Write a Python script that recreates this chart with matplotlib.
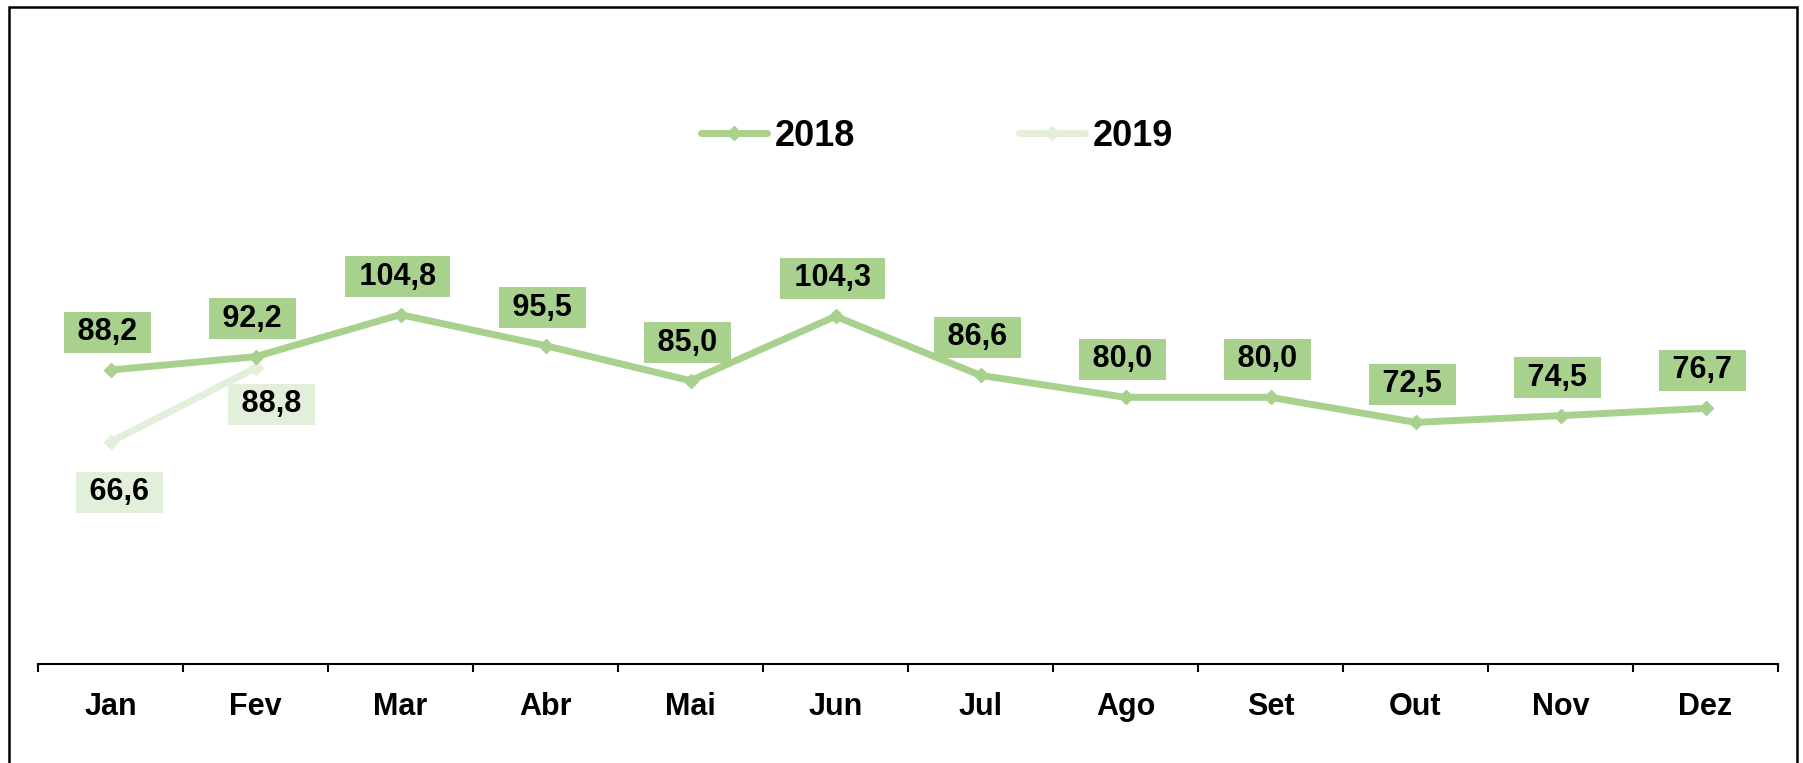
import matplotlib.pyplot as plt
from matplotlib.patches import Rectangle

# ---------------------------------------------------------------------
# Data
# ---------------------------------------------------------------------

MONTHS = ["Jan", "Fev", "Mar", "Abr", "Mai", "Jun",
          "Jul", "Ago", "Set", "Out", "Nov", "Dez"]

VALUES_2018 = [88.2, 92.2, 104.8, 95.5, 85.0, 104.3,
               86.6, 80.0, 80.0, 72.5, 74.5, 76.7]

VALUES_2019 = [66.6, 88.8]

COLOR_2018 = "#A9D18E"
COLOR_2019 = "#E2EFDA"

plt.rcParams["font.family"] = ["Liberation Sans", "DejaVu Sans"]
plt.rcParams["font.weight"] = "bold"


def fmt(value: float) -> str:
    # decimal comma, padded with spaces so the box is wider than tall
    return " " + f"{value:.1f}".replace(".", ",") + " "


def main() -> None:
    fig = plt.figure(figsize=(18.03, 7.63), dpi=100)

    # figure frame
    fig.patches.append(
        Rectangle((9 / 1803, -0.05), (1797 - 9) / 1803, 1.05 - 7 / 763,
                  transform=fig.transFigure, fill=False,
                  edgecolor="black", linewidth=1.8)
    )

    ax = fig.add_axes([38 / 1803, 99 / 763, 1740 / 1803, 600 / 763])

    x18 = range(len(VALUES_2018))
    x19 = range(len(VALUES_2019))

    ax.plot(x18, VALUES_2018, color=COLOR_2018, linewidth=5,
            marker="D", markersize=7, solid_capstyle="round", label="2018",
            zorder=3)
    ax.plot(x19, VALUES_2019, color=COLOR_2019, linewidth=5,
            marker="D", markersize=7, solid_capstyle="round", label="2019",
            zorder=2)

    for i, value in enumerate(VALUES_2018):
        ax.annotate(fmt(value), (i, value), xytext=(-3, 38),
                    textcoords="offset pixels", ha="center", va="center",
                    fontsize=22, fontweight="bold",
                    bbox=dict(boxstyle="square,pad=0.18", facecolor=COLOR_2018,
                              edgecolor="none"), zorder=4)

    offsets_2019 = [(9, -50), (16, -36)]
    for i, value in enumerate(VALUES_2019):
        ax.annotate(fmt(value), (i, value), xytext=offsets_2019[i],
                    textcoords="offset pixels", ha="center", va="center",
                    fontsize=22, fontweight="bold",
                    bbox=dict(boxstyle="square,pad=0.18", facecolor=COLOR_2019,
                              edgecolor="none"), zorder=4)

    ax.set_xlim(-0.5, len(MONTHS) - 0.5)
    ax.set_ylim(0, 180)

    ax.set_xticks(range(len(MONTHS)))
    ax.set_xticklabels(MONTHS, fontsize=22, fontweight="bold")
    ax.set_xticks([i - 0.5 for i in range(len(MONTHS) + 1)], minor=True)
    ax.tick_params(axis="x", which="major", length=0, pad=20)
    ax.tick_params(axis="x", which="minor", length=6, width=1.5,
                   direction="out", color="black")
    ax.set_yticks([])

    for side in ["top", "left", "right"]:
        ax.spines[side].set_visible(False)
    ax.spines["bottom"].set_linewidth(1.5)
    ax.spines["bottom"].set_color("black")

    legend = fig.legend(loc="center", bbox_to_anchor=(937 / 1803, 1 - 136 / 763),
                        ncol=2, frameon=False,
                        handlelength=1.83, handletextpad=0.2,
                        columnspacing=4.55,
                        prop={"weight": "bold", "size": 26})
    for line in legend.get_lines():
        line.set_linewidth(5)
        line.set_solid_capstyle("round")

    fig.savefig("out.png", dpi=100)
    plt.close(fig)


if __name__ == "__main__":
    main()
